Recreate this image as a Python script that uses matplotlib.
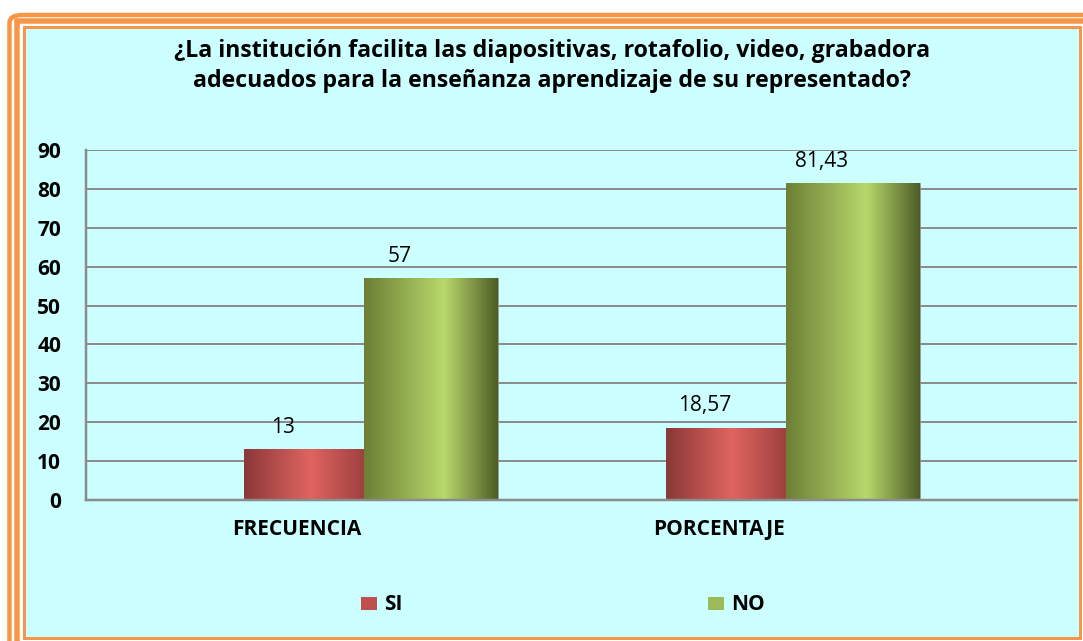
import numpy as np
import matplotlib
matplotlib.use("Agg")
import matplotlib.pyplot as plt
from matplotlib.patches import FancyBboxPatch, Rectangle
from matplotlib.colors import LinearSegmentedColormap

plt.rcParams['font.family'] = ['Open Sans', 'DejaVu Sans']

categories = ['FRECUENCIA', 'PORCENTAJE']
series = ['SI', 'NO']
si_vals = [13, 18.57]
no_vals = [57, 81.43]
si_labels = ['13', '18,57']
no_labels = ['57', '81,43']
title = ('¿La institución facilita las diapositivas, rotafolio, video, grabadora\n'
         'adecuados para la enseñanza aprendizaje de su representado?')
yticks = [0, 10, 20, 30, 40, 50, 60, 70, 80, 90]

W, H = 1083, 641
bg = '#CCFFFF'
orange = '#F79646'
red = '#C0504D'
green = '#9BBB59'

red_cmap = LinearSegmentedColormap.from_list(
    'r', [(0, '#8A3838'), (0.55, '#E0645F'), (1, '#9E4040')])
green_cmap = LinearSegmentedColormap.from_list(
    'g', [(0, '#6C7F34'), (0.6, '#B8D86C'), (1, '#4E5D26')])

fig = plt.figure(figsize=(W / 100, H / 100), dpi=100)
fig.patch.set_facecolor('white')


def px(x, y):
    # pixel coords (top-left origin) -> figure fraction
    return x / W, 1 - y / H


def pw(p):
    return p * 0.72


# orange frames
x0, y0 = px(9.5, 15)
fig.patches.append(FancyBboxPatch((x0, -0.2), 1.2, y0 + 0.2,
                                  boxstyle='round,pad=0,rounding_size=0.012',
                                  transform=fig.transFigure, fill=False,
                                  ec=orange, lw=pw(4.5)))
x1, y1 = px(16.5, 21)
fig.patches.append(Rectangle((x1, -0.2), 1.2, y1 + 0.2, transform=fig.transFigure,
                             fill=False, ec=orange, lw=pw(5.5)))
x2, y2 = px(23.5, 638)
x3, y3 = px(1079.5, 27)
fig.patches.append(Rectangle((x2, y2), x3 - x2, y3 - y2, transform=fig.transFigure,
                             fc=bg, ec=orange, lw=pw(3)))

fig.text(552 / W, 1 - 66 / H, title, ha='center', va='center',
         fontsize=16.7, fontweight='bold', linespacing=1.32, zorder=5)

ax = fig.add_axes([86 / W, (H - 500) / H, (1077 - 86) / W, 350 / H])
ax.set_zorder(3)
ax.set_facecolor(bg)
ax.patch.set_alpha(0)

ax.set_ylim(0, 90)
ax.set_yticks(yticks)
ax.set_yticklabels([str(t) for t in yticks], fontsize=15, fontweight='bold')
ax.set_xticks(np.arange(len(categories)))
ax.set_xticklabels(categories, fontsize=15, fontweight='bold')
ax.tick_params(axis='y', length=0, pad=18)
ax.tick_params(axis='x', length=0, pad=14)
ax.yaxis.grid(True, color='#8C8C8C', lw=pw(2))
ax.set_axisbelow(True)
for s in ['top', 'right']:
    ax.spines[s].set_visible(False)
for s in ['left', 'bottom']:
    ax.spines[s].set_color('#8C8C8C')
    ax.spines[s].set_linewidth(pw(2.5))

x = np.arange(len(categories))
si_left, mid, no_right = -0.1256, 0.1588, 0.476
b1 = ax.bar(x + si_left, si_vals, width=mid - si_left, align='edge',
            color=red, label='SI', zorder=2, ec='#888888', lw=0.5)
b2 = ax.bar(x + mid, no_vals, width=no_right - mid, align='edge',
            color=green, label='NO', zorder=2, ec='#888888', lw=0.5)

grad = np.linspace(0, 1, 256).reshape(1, -1)
for bars, cmap in [(b1, red_cmap), (b2, green_cmap)]:
    for r in bars:
        bx, by = r.get_x(), r.get_y()
        im = ax.imshow(grad, cmap=cmap, aspect='auto', interpolation='bilinear',
                       extent=[bx, bx + r.get_width(), by, by + r.get_height()],
                       zorder=2.5)
        im.set_clip_path(r)

for i in range(len(categories)):
    ax.text(x[i] + (si_left + mid) / 2 - 0.05, si_vals[i] + 3, si_labels[i],
            ha='center', va='bottom', fontsize=15)
    ax.text(x[i] + (mid + no_right) / 2 - 0.075, no_vals[i] + 3, no_labels[i],
            ha='center', va='bottom', fontsize=15)
ax.set_xlim(-0.5, 1.848)
ax.set_ylim(0, 90)

leg = fig.legend(handles=[b1, b2], labels=series, loc='center',
                 bbox_to_anchor=(563 / W, 1 - 605 / H), ncol=2, frameon=False,
                 prop={'weight': 'bold', 'size': 15}, handlelength=0.75,
                 handleheight=0.6, handletextpad=0.35, columnspacing=14.7)
for h in leg.legend_handles:
    h.set_edgecolor('none')

fig.savefig('out.png', dpi=100, facecolor='white')
